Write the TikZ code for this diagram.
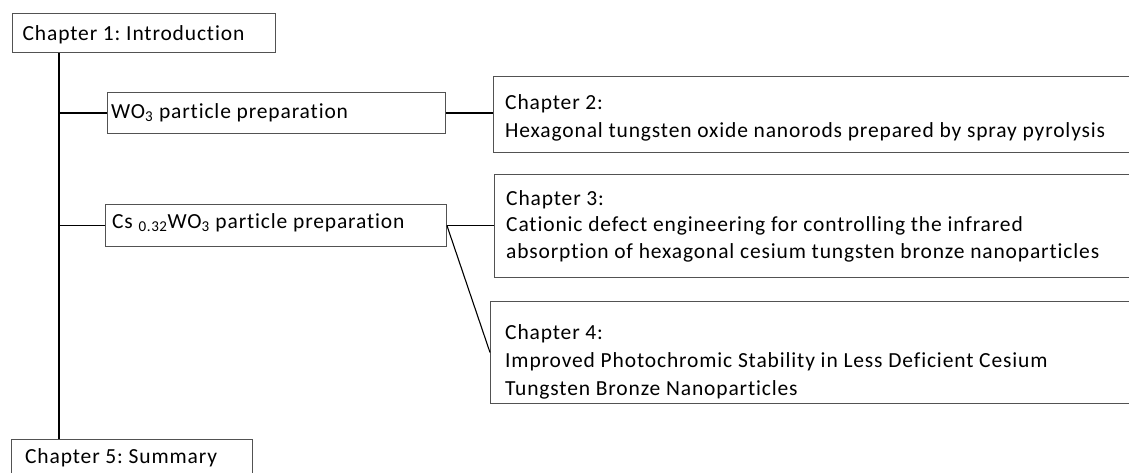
\documentclass[tikz,border=0pt]{standalone}
\usepackage{fontspec}
\setmainfont{Carlito}[Ligatures={NoCommon}, LetterSpace=4]
\frenchspacing
\begin{document}
\begin{tikzpicture}[x=1pt,y=-1pt,
  box/.style={draw=black!68, line width=0.9pt, anchor=north west, inner sep=0pt},
  txt/.style={inner sep=0pt, align=left, font=\fontsize{21.5}{#1}\selectfont},
  txt/.default=27,
  conn/.style={draw=black, line width=1.1pt}]
\clip (0,0) rectangle (1129,472);
\fill[white] (0,0) rectangle (1129,472);
% boxes
\node[box, minimum width=263pt, minimum height=39pt] (c1) at (11.7,13.3) {};
\node[box, minimum width=338pt, minimum height=41pt] (wo) at (107,92) {};
\node[box, minimum width=341.5pt, minimum height=42pt] (cs) at (104.5,204) {};
\node[box, minimum width=650pt, minimum height=76pt] (c2) at (492.5,76) {};
\node[box, minimum width=650pt, minimum height=103pt] (c3) at (494,174) {};
\node[box, minimum width=650pt, minimum height=102pt] (c4) at (490,301) {};
\node[box, minimum width=241pt, minimum height=45pt] (c5) at (11,439) {};
% texts
\node[txt, anchor=base west] (t1) at (22.5,40) {Chapter 1: Introduction};
\node[txt, anchor=base west] (two) at (111,118.5) {WO\textsubscript{3} particle preparation};
\node[txt, anchor=base west] (tcs) at (112,228.3) {Cs \textsubscript{0.32}WO\textsubscript{3} particle preparation};
\node[txt=27.4, anchor=north west] (t2) at (505,93.5) {\rule{0pt}{16pt}Chapter 2:\\Hexagonal tungsten oxide nanorods prepared by spray pyrolysis};
\node[txt=26.5, anchor=north west] (t3) at (506,189) {\rule{0pt}{16pt}Chapter 3:\\Cationic defect engineering for controlling the infrared\\absorption of hexagonal cesium tungsten bronze nanoparticles};
\node[txt=28, anchor=north west] (t4) at (505,323) {\rule{0pt}{16pt}Chapter 4:\\Improved Photochromic Stability in Less Deficient Cesium\\Tungsten Bronze Nanoparticles};
\node[txt, anchor=base west] (t5) at (25,463.3) {Chapter 5: Summary};
% connectors
\coordinate (t) at (59,0);
\draw[conn] (c1.south -| t) -- (c5.north -| t);
\draw[conn] (wo.west -| t) -- (wo.west);
\draw[conn] (cs.west -| t) -- (cs.west);
\draw[conn] (wo.east) -- (wo.east -| c2.west);
\draw[conn] (cs.east) -- (cs.east -| c3.west);
\draw[conn] (cs.east) -- (c4.west);
\end{tikzpicture}
\end{document}
